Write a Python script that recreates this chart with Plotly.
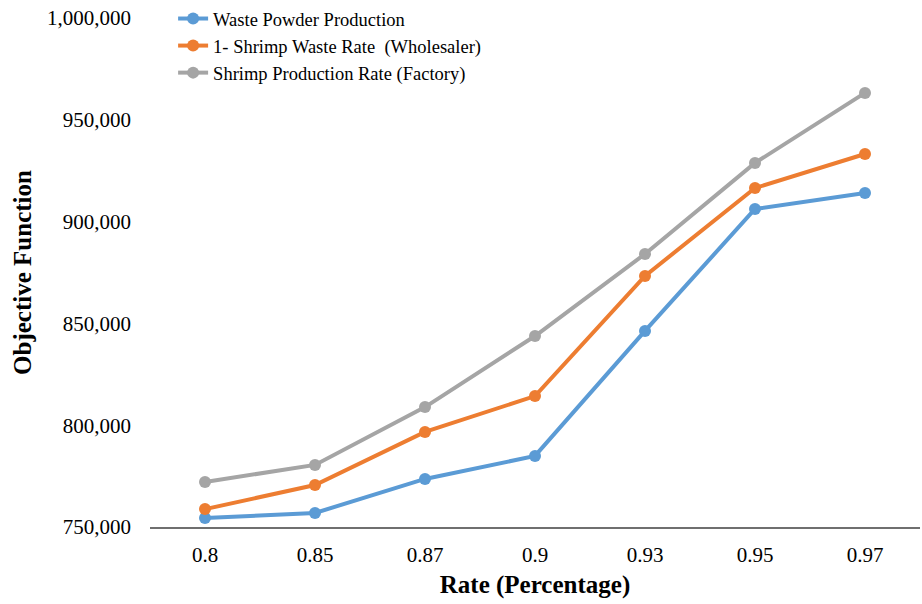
import plotly.graph_objects as go

rates = ["0.8", "0.85", "0.87", "0.9", "0.93", "0.95", "0.97"]
waste_powder = [754400, 756900, 773600, 784900, 846300, 906200, 914000]
shrimp_waste_wholesaler = [758800, 770600, 796700, 814300, 873300, 916500, 933200]
shrimp_production_factory = [772100, 780500, 808900, 843800, 884100, 928800, 963200]
y_ticks = [750000, 800000, 850000, 900000, 950000, 1000000]

series = [
    ("Waste Powder Production", waste_powder, "#5B9BD5"),
    ("1- Shrimp Waste Rate  (Wholesaler)", shrimp_waste_wholesaler, "#ED7D31"),
    ("Shrimp Production Rate (Factory)", shrimp_production_factory, "#A5A5A5"),
]

fig = go.Figure()
for name, vals, color in series:
    fig.add_trace(go.Scatter(
        x=rates, y=vals, name=name, mode="lines+markers",
        line=dict(color=color, width=4),
        marker=dict(color=color, size=12),
    ))

ff = "Liberation Serif, Times New Roman, serif"
fig.update_layout(
    width=922, height=604,
    margin=dict(l=150, r=2, t=18, b=77, autoexpand=False),
    paper_bgcolor="white", plot_bgcolor="white",
    font=dict(family=ff, size=18, color="black"),
    showlegend=True,
    legend=dict(
        x=0.03, y=1.004, xanchor="left", yanchor="top", yref="container",
        bgcolor="rgba(0,0,0,0)", font=dict(size=18.5, family=ff, color="black"),
        tracegroupgap=0,
    ),
    xaxis=dict(
        type="category", range=[-0.5, 6.5], showgrid=False, showline=True,
        linecolor="#6f6f6f", linewidth=1.5, ticks="", ticklabelstandoff=8,
        tickfont=dict(size=21, family=ff, color="black"),
        title=dict(text="<b>Rate (Percentage)</b>", font=dict(size=25, family=ff, color="black"), standoff=10),
    ),
    yaxis=dict(
        range=[750000, 1000000], tickvals=y_ticks,
        tickformat=",", showgrid=False, showline=False, zeroline=False,
        tickfont=dict(size=21, family=ff, color="black"), ticks="", ticklabelstandoff=18,
        title=dict(text="<b>Objective Function</b>", font=dict(size=25, family=ff, color="black"), standoff=8),
    ),
)

fig.write_html("out.html", config={"displayModeBar": False},
               post_script="document.body.style.margin='0';")
